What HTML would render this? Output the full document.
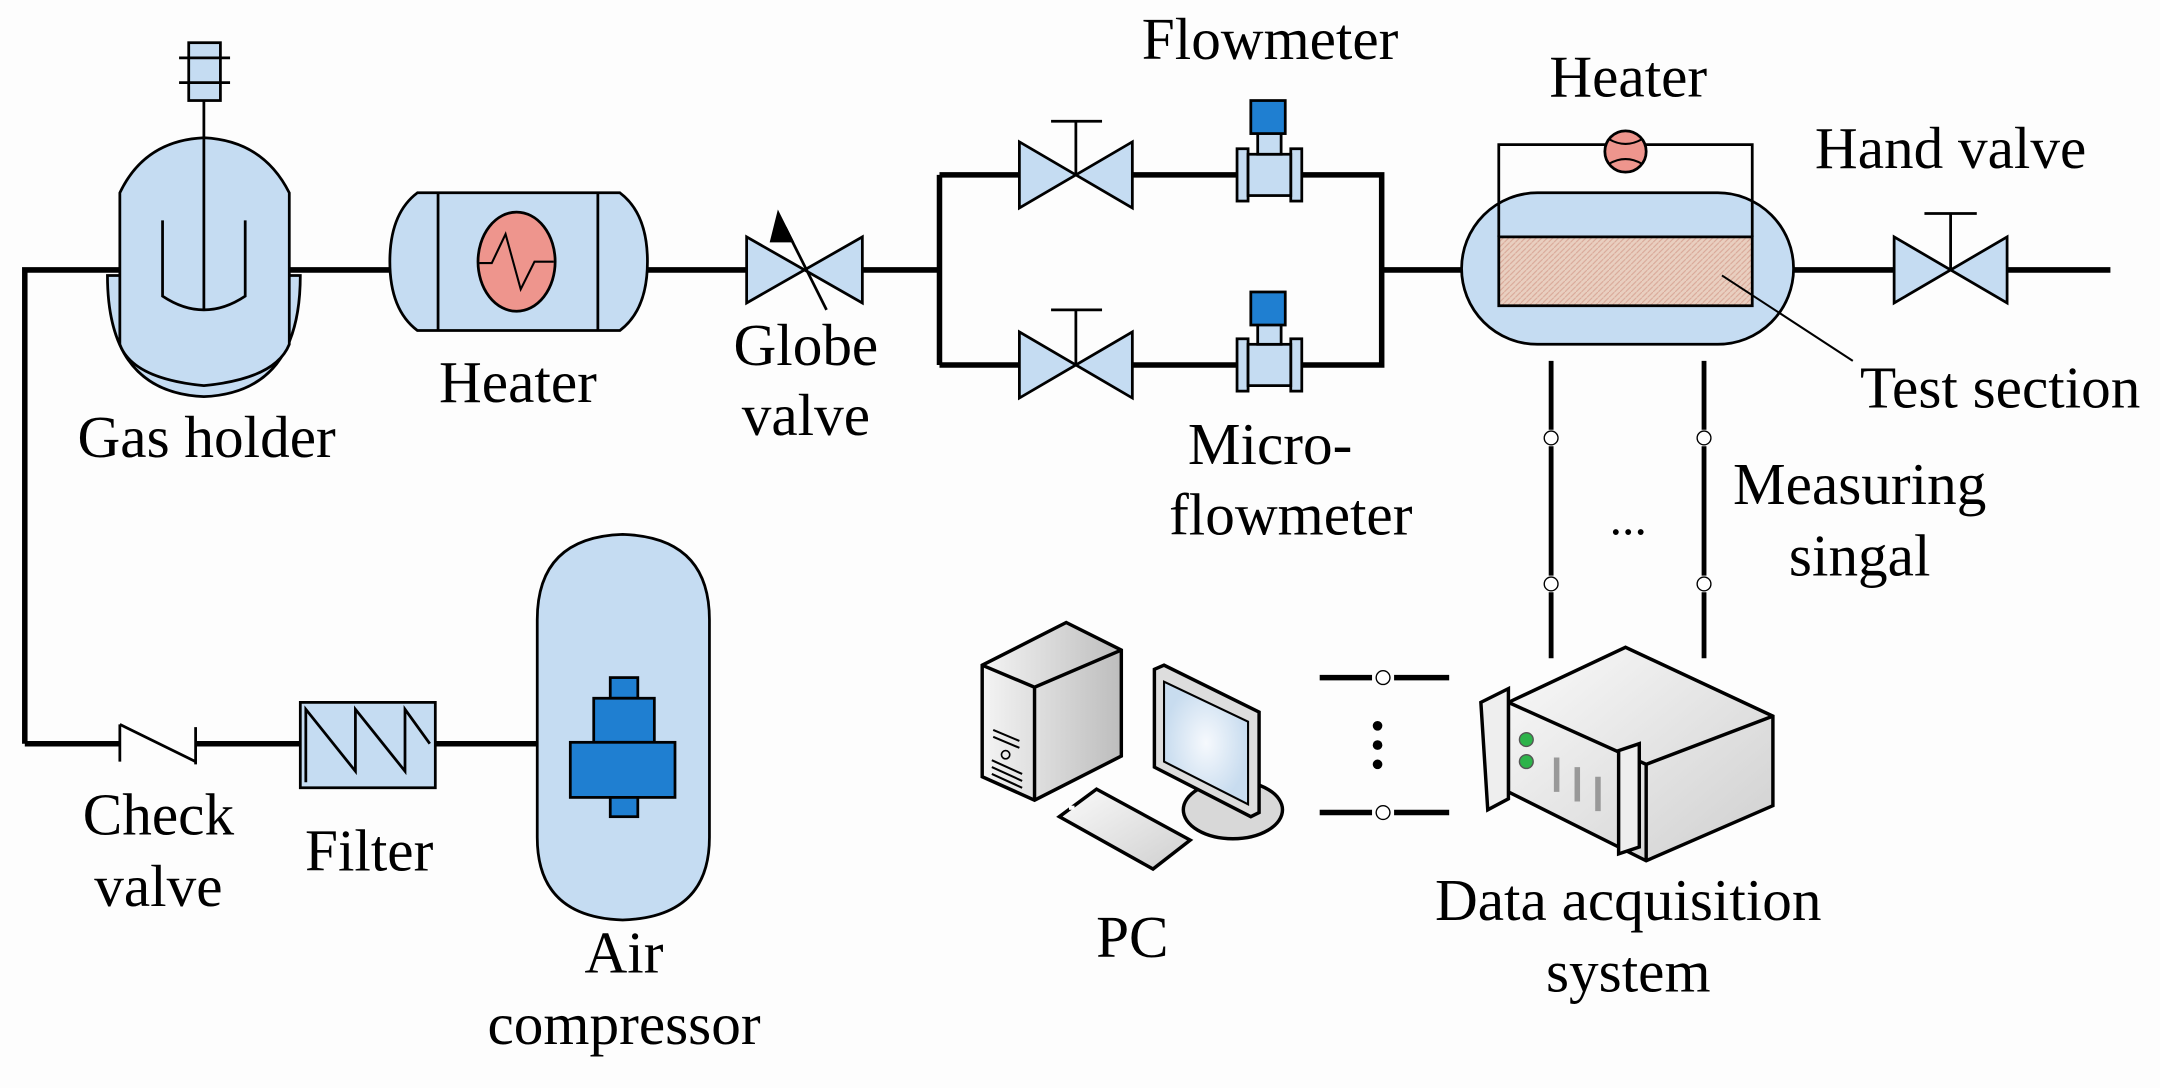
<!DOCTYPE html>
<html><head><meta charset="utf-8"><style>
html,body{margin:0;padding:0;background:#fdfdfd;}
svg{display:block;}
text{font-family:"Liberation Serif",serif;font-size:43px;fill:#000;text-anchor:middle;}
</style></head><body>
<svg width="2160" height="1088" viewBox="0 0 1568 790" preserveAspectRatio="none" xmlns="http://www.w3.org/2000/svg">
<defs>
<pattern id="hatch" width="4" height="4" patternUnits="userSpaceOnUse"><rect width="4" height="4" fill="#e9cfc0"/><path d="M0 4L4 0" stroke="#d9a898" stroke-width="0.8"/></pattern>
<linearGradient id="g1" x1="0" y1="0" x2="1" y2="0"><stop offset="0" stop-color="#f4f4f4"/><stop offset="1" stop-color="#bdbdbd"/></linearGradient>
<linearGradient id="g2" x1="0" y1="0" x2="1" y2="1"><stop offset="0" stop-color="#fafafa"/><stop offset="1" stop-color="#cfcfcf"/></linearGradient>
<radialGradient id="scr"><stop offset="0" stop-color="#f6f9fd"/><stop offset="1" stop-color="#c8dcef"/></radialGradient>
</defs>
<g stroke="#000" stroke-width="4" fill="none">
<path d="M18 540V196H88M210 196H285M470 196H545M626 196H682M682 127V265M682 127H740M822 127H898M945 127H1003V265H945M898 265H822M740 265H682M1003 196H1062M1302 196H1375M1457 196H1532"/>
<path d="M18 540H87M142 540H218M316 540H390"/>
</g>
<g stroke="#000" stroke-width="2" fill="#c5dcf2">
<!-- gas holder -->
<path d="M78 200 Q78 285 148 288 Q218 285 218 200 Z"/>
<path d="M87 250 L87 140 Q105 102 148 100 Q191 102 210 140 L210 250 Q200 275 148 280 Q96 275 87 250 Z"/>
<rect x="137" y="31" width="23" height="42"/>
<path d="M130 42H167M130 60H167M148 73V225M118 160V215Q148 235 178 215V160" fill="none"/>
<!-- heater 1 -->
<path d="M303 140H450Q470 155 470 190Q470 225 450 240H303Q283 225 283 190Q283 155 303 140Z"/>
<path d="M318 140V240M434 140V240" fill="none"/>
<ellipse cx="375" cy="190" rx="28" ry="36" fill="#ee958d"/>
<path d="M348 191H357L367 170L378 210L388 190H402" fill="none" stroke-width="1.5"/>
<!-- globe valve -->
<path d="M542 172V220L626 172V220Z"/>
<path d="M600 225L570 165" fill="none"/>
<path d="M565 155L575 175L560 175Z" fill="#000"/>
<path d="M740 103V151L822 103V151Z"/>
<path d="M781 127V88M763 88H800" fill="none"/>
<path d="M740 241V289L822 241V289Z"/>
<path d="M781 265V225M763 225H800" fill="none"/>
<g><rect x="898" y="108" width="8" height="38"/><rect x="937" y="108" width="8" height="38"/><rect x="906" y="112" width="31" height="30"/><rect x="913" y="96" width="17" height="16"/><rect x="908" y="73" width="25" height="24" fill="#1f7fd1"/></g>
<g><rect x="898" y="246" width="8" height="38"/><rect x="937" y="246" width="8" height="38"/><rect x="906" y="250" width="31" height="30"/><rect x="913" y="234" width="17" height="16"/><rect x="908" y="212" width="25" height="24" fill="#1f7fd1"/></g>
<!-- test section -->
<rect x="1061" y="140" width="241" height="110" rx="55"/>
<rect x="1088" y="172" width="184" height="50" fill="url(#hatch)"/>
<path d="M1088 172V105H1272V172" fill="none"/>
<circle cx="1180" cy="110" r="15" fill="#ee958d"/>
<path d="M1168 101Q1180 108 1192 101M1168 119Q1180 112 1192 119" fill="none" stroke-width="1.5"/>
<path d="M1250 200L1345 262" fill="none" stroke-width="1.5"/>
<path d="M1375 172V220L1457 172V220Z"/>
<path d="M1416 196V155M1397 155H1435" fill="none"/>
<!-- check valve -->
<path d="M87 526V553M87 526L142 553M142 528V555" fill="none"/>
<!-- filter -->
<rect x="218" y="510" width="98" height="62"/>
<path d="M222 568V515L258 560V515L294 560V515L312 540" fill="none"/>
<!-- compressor -->
<path d="M390 450Q390 390 452 388Q515 390 515 450V608Q515 666 452 668Q390 666 390 608Z"/>
<rect x="443" y="492" width="20" height="15" fill="#1f7fd1"/>
<rect x="431" y="507" width="44" height="32" fill="#1f7fd1"/>
<rect x="414" y="539" width="76" height="40" fill="#1f7fd1"/>
<rect x="443" y="579" width="20" height="14" fill="#1f7fd1"/>
</g>
<g stroke="#000" stroke-width="3.5">
<path d="M1126 262V312M1126 324V418M1126 430V478M1237 262V312M1237 324V418M1237 430V478"/>
</g>
<g stroke="#000" stroke-width="1" fill="#fff">
<circle cx="1126" cy="318" r="5"/><circle cx="1237" cy="318" r="5"/><circle cx="1126" cy="424" r="5"/><circle cx="1237" cy="424" r="5"/>
<circle cx="1004" cy="492" r="5"/><circle cx="1004" cy="590" r="5"/>
</g>
<path d="M958 492H996M1012 492H1052M958 590H996M1012 590H1052" stroke="#000" stroke-width="4"/>
<circle cx="1000" cy="527" r="3.5"/><circle cx="1000" cy="541" r="3.5"/><circle cx="1000" cy="555" r="3.5"/>
<text x="1182" y="388" style="font-size:36px">...</text>
<!-- PC -->
<g stroke="#000" stroke-width="2.5">
<path d="M713 483L774 452L814 472V549L751 581L713 564Z" fill="url(#g1)"/>
<path d="M713 483L751 499L814 472M751 499V581" fill="none"/>
<path d="M721 530L740 538M721 535L740 543M720 552L742 562M720 557L742 567M720 562L742 572" fill="none" stroke-width="1.5"/>
<circle cx="730" cy="548" r="3" fill="none" stroke-width="1.2"/>
<ellipse cx="895" cy="588" rx="36" ry="21" fill="#d8d8d8"/>
<path d="M838 486L845 483L914 517V590L908 593L838 557Z" fill="#ddd"/>
<path d="M845 495L906 524V584L845 553Z" fill="url(#scr)" stroke-width="1.5"/>
<path d="M769 593L796 573L864 610L837 631Z" fill="url(#g2)"/>
<path d="M1095 510L1180 470L1287 520V585L1195 625L1095 575Z" fill="url(#g2)"/>
<path d="M1095 510L1195 555L1287 520M1195 555V625" fill="none"/>
<path d="M1075 510L1095 500V580L1080 588Z" fill="#eee"/>
<path d="M1175 545L1190 540V615L1175 620Z" fill="#eee"/>
</g>
<g fill="#fff" stroke="none"><rect x="776" y="585" width="4" height="3"/></g>
<circle cx="1108" cy="537" r="5" fill="#2db34a" stroke="#555"/>
<circle cx="1108" cy="553" r="5" fill="#2db34a" stroke="#555"/>
<path d="M1130 550V575M1145 557V582M1160 564V589" stroke="#999" stroke-width="4"/>
<text x="150" y="332">Gas holder</text>
<text x="376" y="292">Heater</text>
<text x="585" y="265">Globe</text>
<text x="585" y="316">valve</text>
<text x="922" y="43">Flowmeter</text>
<text x="922" y="337">Micro-</text>
<text x="937" y="388">flowmeter</text>
<text x="1182" y="70">Heater</text>
<text x="1416" y="122">Hand valve</text>
<text x="1452" y="296">Test section</text>
<text x="1350" y="366">Measuring</text>
<text x="1350" y="418">singal</text>
<text x="115" y="606">Check</text>
<text x="115" y="658">valve</text>
<text x="268" y="632">Filter</text>
<text x="453" y="706">Air</text>
<text x="453" y="758">compressor</text>
<text x="822" y="695">PC</text>
<text x="1182" y="668">Data acquisition</text>
<text x="1182" y="720">system</text>
</svg>
</body></html>
